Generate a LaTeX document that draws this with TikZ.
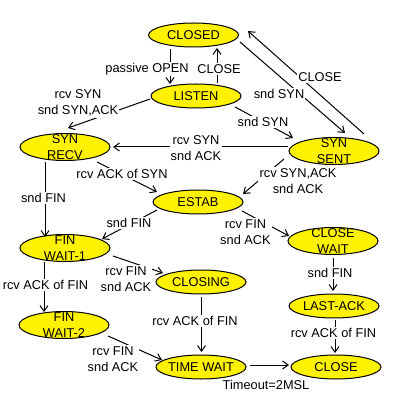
\documentclass[tikz,border=0pt]{standalone}
\usepackage{fontspec}
\setmainfont{Liberation Sans}
\usetikzlibrary{shapes.geometric,arrows.meta,calc}
\begin{document}
\begin{tikzpicture}[x=0.5pt,y=-0.5pt,
  every node/.style={font=\fontsize{6.4}{8.2}\selectfont},
  st/.style={ellipse,draw=black,fill=yellow,line width=0.5pt,minimum width=45pt,minimum height=12pt,inner sep=0pt},
  st2/.style={st,minimum height=13.5pt},
  txt/.style={align=center,inner sep=0pt},
  lbl/.style={fill=white,align=center,inner sep=0.6pt},
  arr/.style={line width=0.5pt,-{Straight Barb[length=2.8pt,width=4pt]}}]
\useasboundingbox (0,0) rectangle (400,400);
\fill[white] (0,0) rectangle (400,400);
% states
\node[st,label={[txt]center:CLOSED}] (closed) at (193.5,35) {};
\node[st,label={[txt]center:LISTEN}] (listen) at (196,96) {};
\node[st2,label={[txt]center:SYN\\RECV}] (synrecv) at (65,147) {};
\node[st2,label={[txt]center:SYN\\SENT}] (synsent) at (334,151) {};
\node[st,label={[txt]center:ESTAB}] (estab) at (198,202) {};
\node[st2,label={[txt]center:CLOSE\\WAIT}] (closewait) at (333,241) {};
\node[st2,label={[txt]center:FIN\\WAIT-1}] (finwait1) at (65,248) {};
\node[st,label={[txt]center:CLOSING}] (closing) at (201,282) {};
\node[st2,label={[txt]center:FIN\\WAIT-2}] (finwait2) at (64,325) {};
\node[st,label={[txt]center:LAST-ACK}] (lastack) at (334,306) {};
\node[st,label={[txt]center:TIME WAIT}] (timewait) at (201,367) {};
\node[st,label={[txt]center:CLOSE}] (close) at (336,367) {};
% transitions
\draw[arr] ($(closed)+(-23.5,14)$) -- ($(listen)+(-26,-12)$);
\draw[arr] ($(listen)+(21,-13)$) -- ($(closed)+(23.5,13)$);
\draw[arr] ($(listen)+(-46,3)$) -- ($(synrecv)+(3,-19)$);
\draw[arr] ($(listen)+(39,11)$) -- ($(synsent)+(-41,-13)$);
\draw[arr] ($(closed)+(46.5,7)$) -- ($(synsent)+(11,-18)$);
\draw[arr] ($(synsent)+(30,-17)$) -- ($(closed)+(54.5,-4)$);
\draw[arr] ($(synsent)+(-46,-4)$) -- ($(synrecv)+(48,0)$);
\draw[arr] ($(synrecv)+(32,15)$) -- ($(estab)+(-41,-10)$);
\draw[arr] ($(synsent)+(-50,8)$) -- ($(estab)+(45,-8)$);
\draw[arr] ($(synrecv)+(-20,15)$) -- ($(finwait1)+(-20,-11)$);
\draw[arr] ($(estab)+(-41,8)$) -- ($(finwait1)+(37,-9)$);
\draw[arr] ($(estab)+(44,9)$) -- ($(closewait)+(-44,-5)$);
\draw[arr] ($(finwait1)+(48,8)$) -- ($(closing)+(-38,-9)$);
\draw[arr] ($(finwait1)+(-21,14)$) -- ($(finwait2)+(-20,-13)$);
\draw[arr] ($(closing)+(0.5,15)$) -- ($(timewait)+(0.5,-15)$);
\draw[arr] ($(finwait2)+(44,11)$) -- ($(timewait)+(-39,-7)$);
\draw[arr] ($(closewait)+(0,17)$) -- ($(lastack)+(-1,-15)$);
\draw[arr] ($(lastack)+(1,14)$) -- ($(close)+(-1,-14)$);
\draw[arr] ($(timewait)+(49,-2)$) -- ($(close)+(-47,-2)$);
% labels
\node[lbl] (l1) at (147,69) {passive OPEN};
\node[lbl] (l2) at (219,69) {CLOSE};
\node[lbl] (l3) at (78,103) {rcv SYN\\snd SYN,ACK};
\node[lbl] (l4) at (263,122) {snd SYN};
\node[lbl] (l5) at (279,94) {snd SYN};
\node[lbl] (l6) at (320,77) {CLOSE};
\node[lbl] (l7) at (196,148) {rcv SYN\\snd ACK};
\node[lbl] (l8) at (122,174) {rcv ACK of SYN};
\node[lbl] (l9) at (298,181) {rcv SYN,ACK\\snd ACK};
\node[lbl] (l10) at (43.5,198) {snd FIN};
\node[lbl] (l11) at (129,223) {snd FIN};
\node[lbl] (l12) at (245.5,232) {rcv FIN\\snd ACK};
\node[lbl] (l13) at (126,279) {rcv FIN\\snd ACK};
\node[lbl] (l14) at (45.5,285) {rcv ACK of FIN};
\node[lbl] (l15) at (195,321) {rcv ACK of FIN};
\node[lbl] (l16) at (113,359) {rcv FIN\\snd ACK};
\node[lbl] (l17) at (330,273) {snd FIN};
\node[lbl] (l18) at (333.5,333) {rcv ACK of FIN};
\node[lbl] (l19) at (266,385) {Timeout=2MSL};
\end{tikzpicture}
\end{document}
